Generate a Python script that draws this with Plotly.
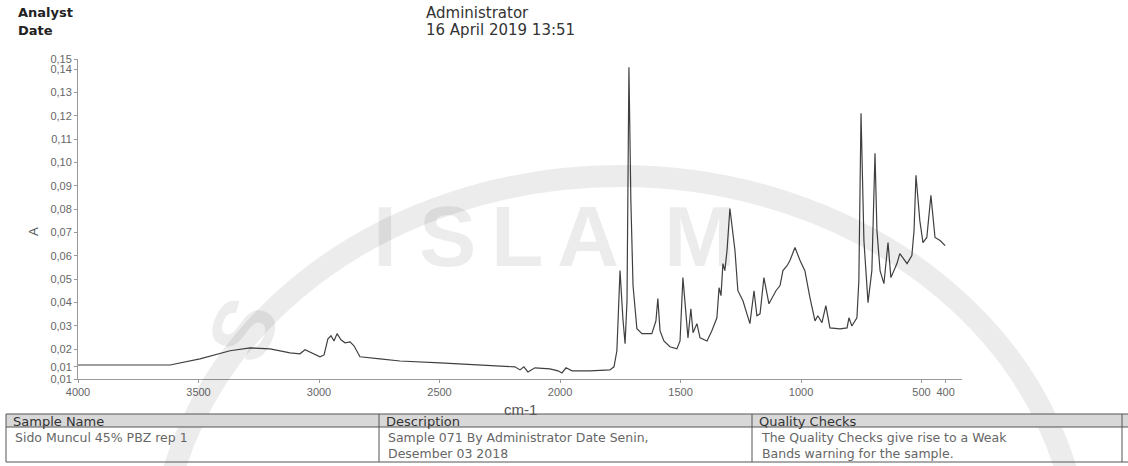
import plotly.graph_objects as go

# ---------------- data ----------------
wavenumber = [4000, 3618, 3494, 3369, 3286, 3203, 3120, 3079, 3058, 3037, 2996, 2979,
              2963, 2950, 2938, 2925, 2909, 2892, 2871, 2855, 2830, 2747, 2664, 2498,
              2332, 2228, 2187, 2166, 2150, 2133, 2104, 2042, 2008, 1992, 1975, 1950,
              1876, 1793, 1776, 1764, 1751, 1739, 1730, 1722, 1714, 1706, 1697, 1681,
              1660, 1619, 1602, 1594, 1585, 1569, 1544, 1515, 1502, 1490, 1477, 1469,
              1457, 1448, 1432, 1419, 1390, 1370, 1349, 1340, 1332, 1324, 1316, 1307,
              1295, 1282, 1274, 1262, 1241, 1212, 1195, 1183, 1170, 1154, 1133, 1104,
              1087, 1075, 1058, 1046, 1025, 1004, 984, 963, 942, 930, 913, 897, 880,
              838, 809, 801, 789, 768, 760, 751, 739, 722, 706, 693, 685, 672, 656,
              639, 627, 602, 590, 560, 540, 531, 523, 507, 494, 478, 461, 444, 423, 402]
absorbance = [0.0133, 0.0133, 0.0159, 0.0194, 0.0206, 0.0202, 0.0185, 0.0181, 0.0198, 0.0189,
              0.0168, 0.0176, 0.0245, 0.0258, 0.0236, 0.0267, 0.0241, 0.0228, 0.0232, 0.0215,
              0.0168, 0.0159, 0.0150, 0.0142, 0.0133, 0.0129, 0.0125, 0.0112, 0.0125, 0.0103,
              0.0121, 0.0116, 0.0108, 0.0099, 0.0121, 0.0108, 0.0108, 0.0112, 0.0125, 0.0194,
              0.0537, 0.0331, 0.0224, 0.0408, 0.1408, 0.0837, 0.0473, 0.0288, 0.0267, 0.0267,
              0.0322, 0.0417, 0.0280, 0.0236, 0.0211, 0.0202, 0.0236, 0.0507, 0.0322, 0.0249,
              0.0374, 0.0271, 0.0310, 0.0249, 0.0236, 0.0280, 0.0335, 0.0464, 0.0430, 0.0567,
              0.0537, 0.0623, 0.0803, 0.0679, 0.0623, 0.0451, 0.0408, 0.0310, 0.0451, 0.0344,
              0.0352, 0.0507, 0.0395, 0.0451, 0.0473, 0.0537, 0.0558, 0.0580, 0.0636, 0.0580,
              0.0537, 0.0421, 0.0322, 0.0344, 0.0314, 0.0387, 0.0292, 0.0288, 0.0292, 0.0335,
              0.0300, 0.0335, 0.0494, 0.1211, 0.0666, 0.0400, 0.0537, 0.1039, 0.0709, 0.0537,
              0.0481, 0.0657, 0.0507, 0.0567, 0.0610, 0.0567, 0.0601, 0.0709, 0.0945, 0.0751,
              0.0657, 0.0679, 0.0859, 0.0679, 0.0666, 0.0644]

x_tick_vals = [4000, 3500, 3000, 2500, 2000, 1500, 1000, 500, 400]
x_tick_text = ["4000", "3500", "3000", "2500", "2000", "1500", "1000", "500", "400"]
y_tick_vals = [0.0073, 0.0125, 0.02, 0.03, 0.04, 0.05, 0.06, 0.07, 0.08, 0.09,
               0.10, 0.11, 0.12, 0.13, 0.14, 0.1443]
y_tick_text = ["0,01", "0,01", "0,02", "0,03", "0,04", "0,05", "0,06", "0,07", "0,08",
               "0,09", "0,10", "0,11", "0,12", "0,13", "0,14", "0,15"]

header_labels = ["Analyst", "Date"]
header_values = ["Administrator", "16 April 2019 13:51"]
table_columns = ["Sample Name", "Description", "Quality Checks"]
table_cells = [["Sido Muncul 45% PBZ rep 1"],
               ["Sample 071 By Administrator Date Senin,", "Desember 03 2018"],
               ["The Quality Checks give rise to a Weak", "Bands warning for the sample."]]

# ---------------- layout geometry ----------------
W, H = 1128, 466
L, R, T, B = 78, 962, 59, 379


def px2x(px):
    return (px - L) / (R - L)


def py2y(py):
    return (B - py) / (B - T)


fig = go.Figure()
fig.add_trace(go.Scatter(x=wavenumber, y=absorbance, mode="lines",
                         line=dict(color="#404040", width=1.2), hoverinfo="skip",
                         showlegend=False))

TXT = "DejaVu Sans"
annotations = []
shapes = []

# faint watermark (drawn first so real text sits on top)
wm = "rgba(0,0,0,0.075)"
shapes.append(dict(type="circle", xref="paper", yref="paper", x0=px2x(160), x1=px2x(1080),
                   y0=py2y(955), y1=py2y(176), line=dict(color=wm, width=22),
                   fillcolor="rgba(0,0,0,0)", layer="above"))
for ch, cx in zip("ISLAM", [385, 447, 517, 588, 700]):
    annotations.append(dict(x=px2x(cx), y=py2y(236), xref="paper", yref="paper",
                            text="<b>" + ch + "</b>", showarrow=False, xanchor="center",
                            yanchor="middle",
                            font=dict(family="Liberation Sans", size=86, color=wm)))
annotations.append(dict(x=px2x(243), y=py2y(330), xref="paper", yref="paper", text="<b>S</b>",
                        showarrow=False, textangle=-65, xanchor="center", yanchor="middle",
                        font=dict(family="Liberation Sans", size=86, color=wm)))

# header block
for i, (lab, val) in enumerate(zip(header_labels, header_values)):
    yy = py2y(13 + i * 17)
    annotations.append(dict(x=px2x(16), y=yy, xref="paper", yref="paper", text="<b>" + lab + "</b>",
                            showarrow=False, xanchor="left", yanchor="middle",
                            font=dict(family=TXT, size=13, color="#222")))
    annotations.append(dict(x=px2x(424), y=yy, xref="paper", yref="paper", text=val,
                            showarrow=False, xanchor="left", yanchor="middle",
                            font=dict(family=TXT, size=15, color="#333")))

# axis titles
annotations.append(dict(x=px2x(33), y=py2y(232), xref="paper", yref="paper", text="A",
                        showarrow=False, textangle=-90, xanchor="center", yanchor="middle",
                        font=dict(family="Liberation Sans", size=13, color="#555")))
annotations.append(dict(x=px2x(520), y=py2y(409), xref="paper", yref="paper", text="cm-1",
                        showarrow=False, xanchor="center", yanchor="middle",
                        font=dict(family="Liberation Sans", size=15, color="#555")))

# table
col_edges = [6, 379, 752, 1122, 1140]
row_top, row_mid, row_bot = 414, 427, 462
shapes.append(dict(type="rect", xref="paper", yref="paper", x0=px2x(6), x1=px2x(1140),
                   y0=py2y(row_top), y1=py2y(row_mid), fillcolor="#d8d8d8", line=dict(width=0)))
for yy in (row_top, row_mid, row_bot):
    shapes.append(dict(type="line", xref="paper", yref="paper", x0=px2x(6), x1=px2x(1140),
                       y0=py2y(yy), y1=py2y(yy), line=dict(color="#555", width=1)))
for xx in col_edges[:-1]:
    shapes.append(dict(type="line", xref="paper", yref="paper", x0=px2x(xx), x1=px2x(xx),
                       y0=py2y(row_top), y1=py2y(row_bot), line=dict(color="#555", width=1)))
for j, name in enumerate(table_columns):
    annotations.append(dict(x=px2x(col_edges[j] + 5), y=py2y(421), xref="paper", yref="paper",
                            text=name, showarrow=False, xanchor="left", yanchor="middle",
                            font=dict(family=TXT, size=13, color="#333")))
    annotations.append(dict(x=px2x(col_edges[j] + 8), y=py2y(429), xref="paper",
                            yref="paper", text="<br>".join(table_cells[j]), showarrow=False,
                            xanchor="left", yanchor="top", align="left", borderpad=0,
                            font=dict(family=TXT, size=12.5, color="#666")))

fig.update_layout(
    width=W, height=H,
    margin=dict(l=L, r=W - R, t=T, b=H - B, pad=0),
    paper_bgcolor="white", plot_bgcolor="white",
    xaxis=dict(range=[4000, 332], tickmode="array", tickvals=x_tick_vals, ticktext=x_tick_text,
               showgrid=False, zeroline=False, showline=True, linecolor="#999", linewidth=1,
               ticks="outside", ticklen=3, tickcolor="#999",
               tickfont=dict(family="Liberation Sans", size=11, color="#666")),
    yaxis=dict(range=[0.0073, 0.1443], tickmode="array", tickvals=y_tick_vals, ticktext=y_tick_text,
               showgrid=False, zeroline=False, showline=True, linecolor="#999", linewidth=1,
               ticks="outside", ticklen=3, tickcolor="#999",
               tickfont=dict(family="Liberation Sans", size=11, color="#666")),
    annotations=annotations, shapes=shapes,
    showlegend=False,
)

fig.write_html("out.html")
